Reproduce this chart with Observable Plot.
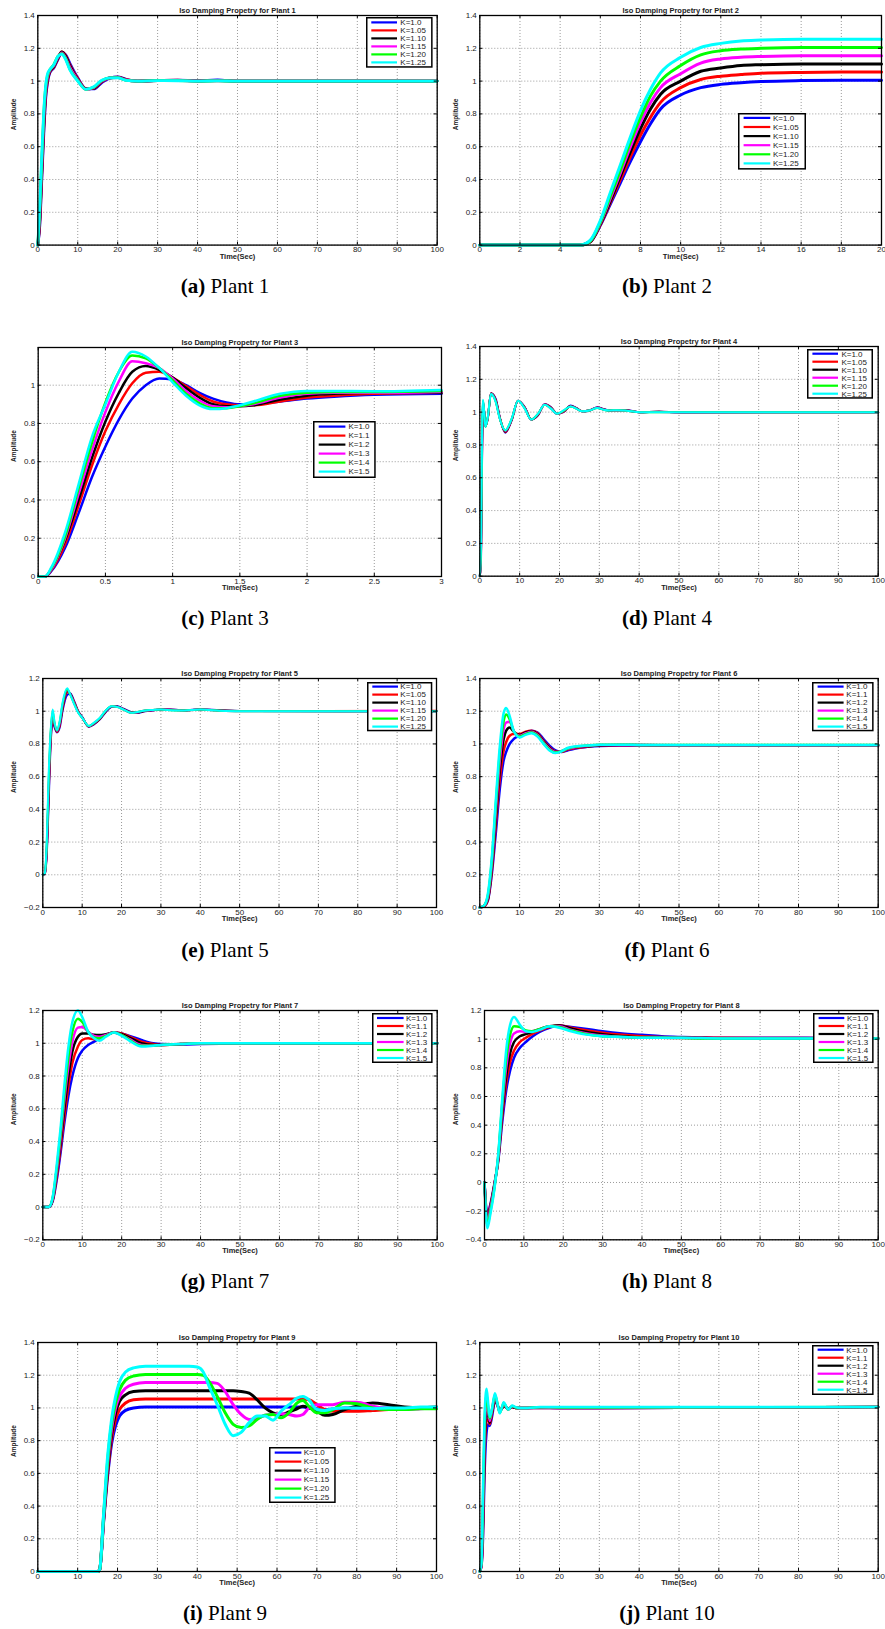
<!DOCTYPE html>
<html><head><meta charset="utf-8">
<script src="https://cdn.jsdelivr.net/npm/d3@7"></script>
<script src="https://cdn.jsdelivr.net/npm/@observablehq/plot@0.6"></script>
<style>
html,body{margin:0;padding:0;background:#fff;}
#root{position:relative;width:885px;height:1629px;overflow:hidden;background:#fff;}
.plotbox{position:absolute;}
.cap{position:absolute;font-family:"Liberation Serif","Times New Roman",serif;font-size:21px;text-align:center;width:240px;line-height:21px;white-space:nowrap;color:#000;}
.leg{position:absolute;}
</style></head><body><div id="root"></div><script>
// ---------- shared ----------
const seriesColors = ["#0000ff","#ff0000","#000000","#ff00ff","#00ff00","#00ffff"];
const labelsA = ["K=1.0","K=1.05","K=1.10","K=1.15","K=1.20","K=1.25"];
const labelsB = ["K=1.0","K=1.1","K=1.2","K=1.3","K=1.4","K=1.5"];
const xTicks100 = [0,10,20,30,40,50,60,70,80,90,100];
const xTicks20 = [0,2,4,6,8,10,12,14,16,18,20];
const xTicks3 = [0,0.5,1,1.5,2,2.5,3];
const yTicks0_14 = [0,0.2,0.4,0.6,0.8,1,1.2,1.4];
const yTicks0_1 = [0,0.2,0.4,0.6,0.8,1];
const yTicksM02 = [-0.2,0,0.2,0.4,0.6,0.8,1,1.2];
const yTicksM04 = [-0.4,-0.2,0,0.2,0.4,0.6,0.8,1,1.2];

// ---------- Plant 1 ----------
const p1Time = [0,0.5,1,1.5,2,2.5,3,4,5,6,7,8,10,12,14,16,18,20,22,25,30,35,40,45,50,100];
const p1Values = [
 [0,0.12,0.4,0.68,0.9,1.0,1.05,1.08,1.13,1.175,1.16,1.11,1.02,0.955,0.952,0.99,1.018,1.025,1.012,1.0,1.004,1.006,1.002,1.007,1.0,1.0],
 [0,0.14,0.43,0.71,0.92,1.01,1.055,1.085,1.135,1.178,1.155,1.10,1.015,0.953,0.955,0.995,1.02,1.024,1.01,1.0,1.004,1.006,1.001,1.004,1.0,1.0],
 [0,0.16,0.46,0.74,0.94,1.02,1.06,1.09,1.14,1.178,1.15,1.095,1.01,0.952,0.957,0.998,1.02,1.023,1.008,1.0,1.003,1.005,1.0,1.003,1.0,1.0],
 [0,0.19,0.49,0.77,0.95,1.03,1.065,1.095,1.145,1.172,1.14,1.085,1.007,0.951,0.96,1.0,1.02,1.022,1.007,1.0,1.003,1.004,1.0,1.002,1.0,1.0],
 [0,0.22,0.52,0.8,0.97,1.04,1.068,1.1,1.15,1.168,1.135,1.075,1.003,0.95,0.962,1.003,1.02,1.021,1.006,1.0,1.003,1.003,1.0,1.001,1.0,1.0],
 [0,0.25,0.55,0.82,0.98,1.05,1.07,1.10,1.15,1.165,1.13,1.07,1.0,0.95,0.965,1.005,1.02,1.02,1.005,1.0,1.003,1.002,1.0,1.001,1.0,1.0]
];
// ---------- Plant 2 ----------
const p2Time = [0,5,5.5,6,6.5,7,7.5,8,8.5,9,10,11,12,13,14,16,18,20];
const p2Values = [
 [0,0,0.02,0.12,0.25,0.38,0.51,0.63,0.74,0.83,0.915,0.96,0.98,0.99,0.997,1.003,1.005,1.005],
 [0,0,0.02,0.125,0.26,0.4,0.54,0.67,0.78,0.87,0.96,1.01,1.03,1.04,1.048,1.053,1.055,1.055],
 [0,0,0.02,0.13,0.27,0.42,0.57,0.71,0.83,0.92,1.0,1.06,1.08,1.095,1.1,1.105,1.105,1.105],
 [0,0,0.025,0.135,0.285,0.44,0.6,0.75,0.87,0.96,1.045,1.11,1.135,1.145,1.15,1.155,1.155,1.155],
 [0,0,0.025,0.14,0.3,0.46,0.63,0.78,0.91,1.0,1.095,1.16,1.185,1.195,1.2,1.205,1.205,1.205],
 [0,0,0.03,0.15,0.32,0.49,0.66,0.82,0.95,1.05,1.145,1.205,1.23,1.245,1.25,1.255,1.255,1.255]
];
// ---------- Plant 3 ----------
const p3Time = [0,0.05,0.1,0.2,0.3,0.4,0.5,0.6,0.7,0.8,0.9,1.0,1.1,1.2,1.3,1.4,1.5,1.6,1.8,2.0,2.2,2.5,3.0];
const p3Values = [
 [0,0,0.03,0.15,0.33,0.52,0.68,0.82,0.93,1.0,1.035,1.03,1.0,0.96,0.93,0.91,0.9,0.9,0.915,0.93,0.94,0.95,0.955],
 [0,0,0.035,0.17,0.37,0.58,0.76,0.9,1.01,1.065,1.07,1.04,0.995,0.95,0.915,0.9,0.895,0.895,0.915,0.935,0.945,0.955,0.96],
 [0,0,0.04,0.19,0.4,0.62,0.81,0.96,1.07,1.1,1.08,1.04,0.985,0.935,0.9,0.89,0.89,0.895,0.925,0.945,0.955,0.96,0.96],
 [0,0,0.04,0.2,0.43,0.66,0.86,1.02,1.125,1.115,1.09,1.035,0.97,0.92,0.89,0.885,0.89,0.9,0.935,0.955,0.96,0.96,0.965],
 [0,0,0.045,0.21,0.46,0.7,0.91,1.07,1.155,1.14,1.09,1.025,0.955,0.905,0.88,0.88,0.89,0.905,0.945,0.96,0.965,0.965,0.97],
 [0,0,0.05,0.23,0.48,0.73,0.9,1.07,1.175,1.15,1.09,1.015,0.945,0.895,0.875,0.88,0.895,0.915,0.955,0.97,0.97,0.968,0.975]
];
// ---------- Plant 4 ----------
const p4Time = [0,0.3,0.6,0.8,1.1,1.4,2,2.8,4,5,6.4,8,9.6,11.3,12.9,14.6,16.3,17.9,19.4,21,22.8,24.3,25.7,27.5,29.5,31,32.5,34.5,36.5,38,40,45,50,100];
const p4Values = [
 [0,0.1,0.8,1.05,1.0,0.92,0.96,1.115,1.08,0.97,0.875,0.95,1.07,1.03,0.955,0.98,1.05,1.03,0.99,1.0,1.04,1.025,1.005,1.01,1.03,1.02,1.01,1.012,1.012,1.008,1.0,1.003,1.0,1.0],
 [0,0.12,0.83,1.055,1.0,0.915,0.96,1.115,1.075,0.968,0.878,0.952,1.07,1.028,0.955,0.982,1.048,1.028,0.99,1.002,1.038,1.023,1.005,1.01,1.028,1.018,1.01,1.012,1.011,1.007,1.0,1.002,1.0,1.0],
 [0,0.14,0.86,1.06,1.0,0.912,0.965,1.113,1.07,0.966,0.882,0.954,1.07,1.026,0.955,0.985,1.047,1.025,0.99,1.004,1.037,1.022,1.005,1.01,1.027,1.017,1.01,1.012,1.011,1.006,1.0,1.002,0.998,1.0],
 [0,0.16,0.9,1.065,1.0,0.911,0.966,1.112,1.068,0.964,0.885,0.956,1.07,1.024,0.955,0.987,1.046,1.023,0.99,1.006,1.036,1.021,1.005,1.01,1.026,1.016,1.01,1.012,1.01,1.006,1.0,1.001,0.998,1.0],
 [0,0.18,0.93,1.07,1.0,0.91,0.968,1.111,1.064,0.962,0.888,0.958,1.07,1.022,0.955,0.989,1.045,1.021,0.99,1.008,1.035,1.02,1.005,1.01,1.025,1.015,1.01,1.012,1.01,1.005,1.0,1.0,1.0,1.0],
 [0,0.2,0.95,1.075,1.0,0.91,0.97,1.11,1.06,0.96,0.89,0.96,1.07,1.02,0.955,0.99,1.045,1.02,0.99,1.01,1.035,1.02,1.005,1.01,1.025,1.015,1.01,1.012,1.01,1.005,1.0,1.0,1.0,1.0]
];
// ---------- Plant 5 ----------
const p5Time = [0,0.5,1,1.5,2,2.5,3,3.6,4.3,5,6.2,7,8,9,10,11.7,13,14.5,16,17.4,19,20.5,22.4,24,26,28,30,33,36,40,45,50,100];
const p5Values = [
 [0,0.005,0.12,0.45,0.8,0.93,0.9,0.87,0.9,1.0,1.1,1.108,1.06,1.0,0.965,0.905,0.92,0.95,0.995,1.025,1.03,1.015,0.995,0.99,1.0,1.005,1.01,1.01,1.005,1.012,1.005,1.002,1.0],
 [0,0.006,0.14,0.49,0.82,0.95,0.91,0.873,0.91,1.01,1.115,1.105,1.055,0.998,0.963,0.906,0.922,0.952,0.998,1.027,1.028,1.013,0.993,0.992,1.002,1.006,1.01,1.009,1.005,1.011,1.004,1.001,1.003],
 [0,0.007,0.15,0.52,0.84,0.97,0.915,0.876,0.92,1.02,1.125,1.105,1.05,0.995,0.962,0.907,0.924,0.954,1.0,1.028,1.027,1.012,0.992,0.993,1.003,1.007,1.01,1.008,1.005,1.011,1.004,1.001,1.0],
 [0,0.008,0.16,0.55,0.85,0.98,0.92,0.879,0.925,1.03,1.13,1.103,1.048,0.993,0.961,0.908,0.926,0.956,1.002,1.029,1.026,1.011,0.991,0.994,1.004,1.007,1.01,1.007,1.004,1.01,1.003,1.0,1.0],
 [0,0.009,0.18,0.58,0.87,1.0,0.925,0.882,0.935,1.04,1.135,1.1,1.045,0.992,0.96,0.909,0.928,0.958,1.004,1.03,1.025,1.01,0.99,0.995,1.005,1.008,1.01,1.006,1.004,1.01,1.003,1.0,1.0],
 [0,0.01,0.2,0.62,0.88,1.01,0.93,0.885,0.94,1.05,1.14,1.1,1.04,0.99,0.96,0.91,0.93,0.96,1.005,1.03,1.025,1.01,0.99,0.995,1.005,1.008,1.01,1.005,1.004,1.01,1.003,1.0,1.0]
];
// ---------- Plant 6 ----------
const p6Time = [0,1,2,3,4,5,6,6.6,7.5,8.5,10,11.5,13,14.5,16,17.5,19,20.5,22,24,27,30,35,40,50,100];
const p6Values = [
 [0,0.005,0.04,0.2,0.45,0.72,0.9,0.95,1.0,1.03,1.05,1.07,1.08,1.07,1.03,0.99,0.96,0.95,0.96,0.972,0.982,0.988,0.99,0.99,0.99,0.99],
 [0,0.005,0.045,0.22,0.5,0.78,0.96,1.01,1.05,1.06,1.06,1.075,1.08,1.065,1.02,0.98,0.955,0.952,0.965,0.975,0.984,0.99,0.992,0.992,0.99,0.99],
 [0,0.01,0.05,0.24,0.54,0.84,1.03,1.08,1.1,1.075,1.055,1.07,1.078,1.06,1.015,0.975,0.952,0.955,0.968,0.978,0.986,0.991,0.993,0.993,0.992,0.992],
 [0,0.01,0.06,0.26,0.58,0.89,1.09,1.13,1.135,1.08,1.05,1.065,1.075,1.055,1.01,0.97,0.95,0.955,0.97,0.98,0.988,0.993,0.994,0.993,0.992,0.992],
 [0,0.01,0.07,0.28,0.62,0.94,1.14,1.18,1.15,1.08,1.045,1.06,1.07,1.05,1.005,0.965,0.947,0.955,0.972,0.983,0.99,0.995,0.995,0.994,0.993,0.993],
 [0,0.01,0.08,0.3,0.65,0.98,1.19,1.22,1.17,1.08,1.04,1.055,1.065,1.045,1.0,0.96,0.945,0.955,0.975,0.985,0.99,0.995,0.995,0.994,0.994,0.994]
];
// ---------- Plant 7 ----------
const p7Time = [0,1.5,2.5,3.5,4.5,5.5,6.5,7.5,8.9,10,11.5,13,14.3,16,18,20,22,25,28,30,35,40,45,50,100];
const p7Values = [
 [0,0,0.035,0.16,0.33,0.52,0.68,0.8,0.91,0.955,0.99,1.01,1.03,1.05,1.065,1.06,1.045,1.02,1.0,0.995,0.993,0.995,0.997,1.0,1.0],
 [0,0,0.04,0.18,0.36,0.56,0.74,0.88,0.98,1.02,1.03,1.025,1.03,1.05,1.065,1.06,1.04,1.01,0.995,0.99,0.995,0.998,1.0,1.0,1.0],
 [0,0,0.045,0.2,0.39,0.61,0.8,0.95,1.04,1.06,1.06,1.052,1.05,1.055,1.065,1.055,1.035,1.0,0.99,0.99,0.995,1.0,1.0,1.0,1.0],
 [0,0,0.05,0.21,0.42,0.66,0.86,1.01,1.095,1.1,1.07,1.045,1.04,1.05,1.065,1.05,1.025,0.99,0.985,0.99,0.995,1.0,1.0,1.0,1.0],
 [0,0,0.055,0.23,0.45,0.7,0.92,1.07,1.15,1.13,1.07,1.035,1.03,1.045,1.065,1.05,1.02,0.985,0.985,0.99,0.995,1.0,1.0,1.0,1.0],
 [0,0,0.06,0.25,0.48,0.75,0.98,1.13,1.2,1.16,1.07,1.03,1.015,1.04,1.065,1.045,1.015,0.98,0.985,0.99,0.995,1.0,1.0,1.0,1.0]
];
// ---------- Plant 8 ----------
const p8Time = [0,0.7,1.5,2.5,3.5,4.5,5.5,6.5,7.5,9,10.5,12,14,16.5,19,22,25,30,35,40,45,50,60,80,100];
const p8Values = [
 [0,-0.22,-0.15,-0.01,0.15,0.42,0.64,0.78,0.87,0.94,0.98,1.015,1.05,1.08,1.095,1.085,1.075,1.055,1.04,1.03,1.02,1.015,1.01,1.01,1.005],
 [0,-0.24,-0.16,-0.015,0.16,0.46,0.69,0.84,0.92,0.98,1.01,1.035,1.06,1.085,1.095,1.08,1.065,1.045,1.03,1.02,1.015,1.012,1.01,1.008,1.005],
 [0,-0.26,-0.17,-0.02,0.17,0.49,0.74,0.9,0.98,1.02,1.035,1.05,1.07,1.09,1.095,1.075,1.055,1.035,1.02,1.012,1.01,1.01,1.007,1.005,1.005],
 [0,-0.28,-0.18,-0.03,0.18,0.52,0.8,0.97,1.04,1.055,1.05,1.055,1.07,1.09,1.09,1.065,1.045,1.025,1.015,1.01,1.01,1.008,1.006,1.005,1.005],
 [0,-0.3,-0.2,-0.04,0.19,0.55,0.86,1.03,1.09,1.085,1.06,1.055,1.07,1.09,1.085,1.06,1.04,1.02,1.015,1.01,1.01,1.008,1.005,1.005,1.005],
 [0,-0.32,-0.22,-0.05,0.2,0.58,0.92,1.1,1.155,1.1,1.055,1.05,1.065,1.09,1.08,1.055,1.035,1.02,1.015,1.01,1.01,1.01,1.005,1.005,1.005]
];
// ---------- Plant 9 ----------
const p9Time = [0,15,15.5,16.5,17.5,18.5,19.5,20.5,22,24,27,30,35,38,40,41.5,43,45,47,49,51,53,55,57,59,61,63,65,66.5,68,70,72,74,77,80,84,88,92,96,100];
const p9Values = [
 [0,0,0.01,0.3,0.58,0.78,0.89,0.95,0.985,1.0,1.005,1.005,1.005,1.005,1.005,1.005,1.005,1.005,1.005,1.005,1.005,1.005,1.005,1.005,1.005,1.005,1.005,1.005,1.005,1.0,0.995,0.99,0.993,1.0,1.0,1.0,1.0,1.0,1.0,1.0],
 [0,0,0.01,0.31,0.6,0.81,0.93,0.99,1.03,1.05,1.055,1.055,1.055,1.055,1.055,1.055,1.055,1.055,1.055,1.055,1.055,1.055,1.055,1.055,1.055,1.055,1.055,1.055,1.055,1.05,1.02,0.99,0.98,0.98,0.98,0.985,0.99,1.0,1.0,1.0],
 [0,0,0.01,0.32,0.62,0.84,0.97,1.04,1.08,1.1,1.105,1.105,1.105,1.105,1.105,1.105,1.105,1.105,1.105,1.105,1.1,1.09,1.05,1.0,0.97,0.96,0.975,0.995,1.01,1.0,0.98,0.955,0.96,0.99,1.01,1.03,1.02,1.005,1.0,1.005],
 [0,0,0.01,0.33,0.65,0.87,1.0,1.07,1.12,1.145,1.155,1.155,1.155,1.155,1.155,1.155,1.155,1.15,1.1,1.02,0.96,0.93,0.935,0.955,0.96,0.965,0.96,0.95,0.96,1.0,1.02,1.02,1.02,1.035,1.035,1.01,0.995,0.99,0.995,1.0],
 [0,0,0.01,0.34,0.67,0.9,1.03,1.11,1.17,1.195,1.205,1.205,1.205,1.205,1.205,1.2,1.16,1.07,0.97,0.9,0.88,0.89,0.93,0.955,0.96,0.94,0.97,1.03,1.045,1.01,0.97,0.97,0.99,1.03,1.025,1.0,0.99,0.99,0.995,0.995],
 [0,0,0.01,0.35,0.7,0.93,1.07,1.16,1.22,1.245,1.255,1.255,1.255,1.255,1.25,1.22,1.13,1.02,0.9,0.83,0.85,0.91,0.95,0.95,0.925,0.98,1.02,1.06,1.07,1.05,0.99,0.985,0.995,1.0,1.0,0.995,1.0,1.0,1.005,1.005]
];
// ---------- Plant 10 ----------
const p10Time = [0,0.4,0.8,1.2,1.7,2.1,2.5,3.1,3.8,4.4,5,5.5,6,6.6,7.1,7.6,8.1,9,10,12,15,20,30,100];
const p10Values = [
 [0,0.03,0.2,0.6,0.85,0.9,0.89,0.95,1.04,1.02,0.99,0.995,1.01,1.005,0.995,1.0,1.005,1.0,1.0,1.0,1.0,1.0,1.0,1.005],
 [0,0.03,0.25,0.7,0.92,0.93,0.9,0.97,1.05,1.02,0.985,0.995,1.01,1.005,0.995,1.0,1.005,1.0,1.0,1.0,1.0,1.0,1.0,1.005],
 [0,0.04,0.3,0.78,0.98,0.95,0.91,0.98,1.06,1.02,0.98,0.995,1.015,1.005,0.993,1.0,1.007,1.0,1.0,1.0,1.002,1.0,1.0,1.005],
 [0,0.04,0.36,0.85,1.03,0.98,0.92,0.99,1.07,1.025,0.975,0.998,1.02,1.007,0.99,1.0,1.01,1.002,1.0,1.0,1.003,1.0,1.0,1.005],
 [0,0.05,0.43,0.9,1.08,1.0,0.935,0.995,1.08,1.03,0.97,0.998,1.03,1.008,0.99,1.0,1.012,1.003,1.0,1.0,1.004,1.003,1.003,1.005],
 [0,0.05,0.5,0.95,1.117,1.03,0.945,1.0,1.09,1.03,0.967,1.0,1.035,1.01,0.99,1.0,1.015,1.005,1.0,1.0,1.005,1.005,1.005,1.005]
];

// ---------- layout (pixel boxes: left, right, top, bottom) ----------
const panels = [
 {n:1, letter:"a", t:p1Time, v:p1Values, labels:labelsA, xT:xTicks100, yT:yTicks0_14, xd:[0,100], yd:[0,1.4], box:[37.3,436.7,14.7,244.3], sw:2.8,
  leg:{x:365.7,y:17.3,w:66.6,h:50.7,row0:22.7,step:8,s0:371,s1:396.7,tx:400}, capY:293},
 {n:2, letter:"b", t:p2Time, v:p2Values, labels:labelsA, xT:xTicks20, yT:yTicks0_14, xd:[0,20], yd:[0,1.4], box:[479.3,881,14.7,244.3], sw:3,
  leg:{x:737.7,y:112.7,w:68,h:56.6,row0:117.6,step:9.1,s0:743.3,s1:770,tx:772.7}, capY:293},
 {n:3, letter:"c", t:p3Time, v:p3Values, labels:labelsB, xT:xTicks3, yT:yTicks0_1, xd:[0,3], yd:[0,1.197], box:[37.7,441,346.7,575.7], sw:2.5,
  leg:{x:313.3,y:420.7,w:62.7,h:57,row0:426.3,step:9,s0:319,s1:345.7,tx:348.7}, capY:625},
 {n:4, letter:"d", t:p4Time, v:p4Values, labels:labelsA, xT:xTicks100, yT:yTicks0_14, xd:[0,100], yd:[0,1.4], box:[479.3,877.7,346,575.7], sw:2,
  leg:{x:807.3,y:349.3,w:66,h:49.7,row0:354,step:8,s0:812.7,s1:838.3,tx:841.7}, capY:625},
 {n:5, letter:"e", t:p5Time, v:p5Values, labels:labelsA, xT:xTicks100, yT:yTicksM02, xd:[0,100], yd:[-0.2,1.2], box:[42.3,436,678.3,907.3], sw:2,
  leg:{x:366.7,y:681.7,w:65.3,h:49.3,row0:686.3,step:8,s0:372,s1:397.7,tx:400}, capY:956.7},
 {n:6, letter:"f", t:p6Time, v:p6Values, labels:labelsB, xT:xTicks100, yT:yTicks0_14, xd:[0,100], yd:[0,1.4], box:[479.3,877.7,678.3,907.3], sw:2.5,
  leg:{x:811.7,y:681.7,w:61.6,h:49.3,row0:686.3,step:8,s0:817.3,s1:843.3,tx:846}, capY:956.7},
 {n:7, letter:"g", t:p7Time, v:p7Values, labels:labelsB, xT:xTicks100, yT:yTicksM02, xd:[0,100], yd:[-0.2,1.2], box:[42.3,436.7,1010,1239.3], sw:2.5,
  leg:{x:371.7,y:1013.3,w:60.6,h:50,row0:1018.3,step:8,s0:376.7,s1:403.3,tx:405.7}, capY:1288},
 {n:8, letter:"h", t:p8Time, v:p8Values, labels:labelsB, xT:xTicks100, yT:yTicksM04, xd:[0,100], yd:[-0.4,1.2], box:[484,877.7,1010,1239.3], sw:2.5,
  leg:{x:812.7,y:1013.3,w:60.6,h:50,row0:1018.3,step:8,s0:818.3,s1:844,tx:846.7}, capY:1288},
 {n:9, letter:"i", t:p9Time, v:p9Values, labels:labelsA, xT:xTicks100, yT:yTicks0_14, xd:[0,100], yd:[0,1.4], box:[37.3,436,1342,1571], sw:3,
  leg:{x:269.3,y:1446.7,w:66.7,h:56,row0:1452.3,step:9,s0:275,s1:301.7,tx:304}, capY:1620},
 {n:10, letter:"j", t:p10Time, v:p10Values, labels:labelsB, xT:xTicks100, yT:yTicks0_14, xd:[0,100], yd:[0,1.4], box:[479.3,877.7,1342,1571], sw:2.5,
  leg:{x:811.7,y:1345,w:61.6,h:50,row0:1349.7,step:8,s0:817.3,s1:843.3,tx:846}, capY:1620}
];

const fmt = d => String(Math.round(d*10)/10).replace("-", "\u2212");
const FONT = "'Liberation Sans', Arial, Helvetica, sans-serif";
const root = document.getElementById("root");

function render(p) {
  const [L, R, T, B] = p.box;
  const left = L < 440;
  const colX = left ? 0 : 442;
  const W = left ? 442 : 443;
  const mt = 18, mb = 26;
  const H = (B - T) + mt + mb;
  const xs = p.xd, ys = p.yd;
  const tly = (ys[1] - ys[0]) * 3 / (B - T);
  const tlx = (xs[1] - xs[0]) * 3 / (R - L);
  const ylabX = left ? 13.3 : 455;
  const grid = {stroke: "#808080", strokeOpacity: 1, strokeWidth: 0.8, strokeDasharray: "1,2"};
  const marks = [
    Plot.gridX(p.xT, grid),
    Plot.gridY(p.yT, grid),
    ...p.v.map((arr, si) => Plot.line(p.t.map((t, i) => [t, arr[i]]), {
      stroke: seriesColors[si], strokeWidth: p.sw, curve: "monotone-x", strokeLinejoin: "round"
    })),
    Plot.ruleX(p.xT, {y1: ys[0], y2: ys[0] + tly, stroke: "#000"}),
    Plot.ruleX(p.xT, {y1: ys[1], y2: ys[1] - tly, stroke: "#000"}),
    Plot.ruleY(p.yT, {x1: xs[0], x2: xs[0] + tlx, stroke: "#000"}),
    Plot.ruleY(p.yT, {x1: xs[1], x2: xs[1] - tlx, stroke: "#000"}),
    Plot.frame({stroke: "#000", strokeWidth: 1.3}),
    Plot.axisX(p.xT, {anchor: "bottom", tickSize: 0, tickPadding: 1.5, fontSize: 8, tickFormat: fmt, label: null, fill: "#222"}),
    Plot.axisY(p.yT, {anchor: "left", tickSize: 0, tickPadding: 3, fontSize: 8, tickFormat: fmt, label: null, fill: "#222"}),
    Plot.text(["Iso Damping Propetry for Plant " + p.n], {frameAnchor: "top", dy: -7.5, fontWeight: "bold", fontSize: 7.5, fill: "#222"}),
    Plot.text(["Time(Sec)"], {frameAnchor: "bottom", dy: 13.5, fontWeight: "bold", fontSize: 7.5, fill: "#222"}),
    Plot.text(["Amplitude"], {frameAnchor: "left", dx: ylabX - L, rotate: -90, fontWeight: "bold", fontSize: 6.5, fill: "#222"})
  ];
  const svg = Plot.plot({
    width: W, height: H,
    marginLeft: L - colX, marginRight: colX + W - R, marginTop: mt, marginBottom: mb,
    x: {domain: xs}, y: {domain: ys},
    style: {fontFamily: FONT, background: "transparent", overflow: "visible"},
    marks
  });
  const box = document.createElement("div");
  box.className = "plotbox";
  box.style.left = colX + "px";
  box.style.top = (T - mt) + "px";
  box.appendChild(svg);
  root.appendChild(box);

  // legend
  const g = p.leg;
  const ns = "http://www.w3.org/2000/svg";
  const ls = document.createElementNS(ns, "svg");
  ls.setAttribute("width", g.w); ls.setAttribute("height", g.h);
  ls.setAttribute("class", "leg");
  ls.style.left = g.x + "px"; ls.style.top = g.y + "px"; ls.style.overflow = "visible";
  let inner = `<rect x="0.75" y="0.75" width="${g.w - 1.5}" height="${g.h - 1.5}" fill="#fff" stroke="#000" stroke-width="1.5"/>`;
  p.labels.forEach((lab, i) => {
    const yy = g.row0 - g.y + i * g.step;
    inner += `<line x1="${g.s0 - g.x}" x2="${g.s1 - g.x}" y1="${yy}" y2="${yy}" stroke="${seriesColors[i]}" stroke-width="2.2"/>`;
    inner += `<text x="${g.tx - g.x}" y="${yy}" dy="0.35em" font-family="${FONT}" font-size="8" fill="#222">${lab}</text>`;
  });
  ls.innerHTML = inner;
  root.appendChild(ls);

  // caption
  const cap = document.createElement("div");
  cap.className = "cap";
  const cx = left ? 225 : 667;
  cap.style.left = (cx - 120) + "px";
  cap.style.top = (p.capY - 17) + "px";
  cap.innerHTML = `<b>(${p.letter})</b> Plant ${p.n}`;
  root.appendChild(cap);
}
panels.forEach(render);
</script></body></html>
